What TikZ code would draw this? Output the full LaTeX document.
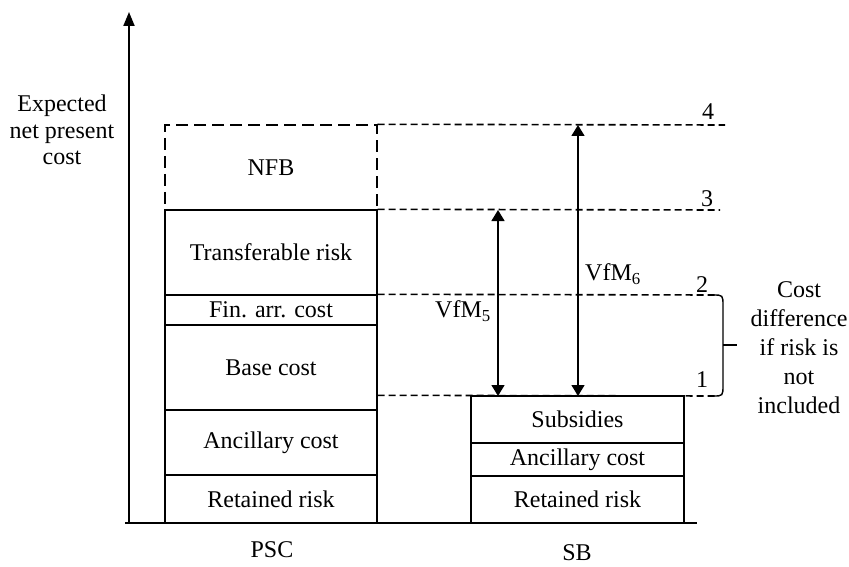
\documentclass[tikz,border=0pt]{standalone}
\usepackage{fontspec}
\setmainfont{Liberation Serif}
\usetikzlibrary{arrows.meta,calc}
\begin{document}
\begin{tikzpicture}[x=1pt,y=-1pt,
  every node/.style={font=\fontsize{24}{27}\selectfont, inner sep=0pt},
  pscbox/.style={draw, line width=1.4pt, minimum width=212pt},
  sbbox/.style={draw, line width=1.4pt, minimum width=213pt},
  guide/.style={line width=1.6pt, dash pattern=on 7pt off 4pt},
  axisline/.style={line width=2pt},
  dbl/.style={line width=1.5pt, {Triangle[length=11pt,width=13pt]}-{Triangle[length=11pt,width=13pt]}}]
\useasboundingbox (0,0) rectangle (849,567);
% PSC column
\node[pscbox, minimum height=48pt] (pret) at (271,499) {Retained risk};
\node[pscbox, minimum height=65pt] (panc) at (271,442.5) {Ancillary cost};
\node[pscbox, minimum height=85pt] (base) at (271,367.5) {Base cost};
\node[pscbox, minimum height=30pt] (fin) at (271,310) {Fin. arr. cost};
\node[pscbox, minimum height=85pt] (tr) at (271,252.5) {Transferable risk};
\node[pscbox, dash pattern=on 12pt off 6pt, minimum height=85pt] (nfb) at (271,167.5) {NFB};
% SB column
\node[sbbox, minimum height=47pt] (sret) at (577.5,499.5) {Retained risk};
\node[sbbox, minimum height=33pt] (sanc) at (577.5,459.5) {Ancillary cost};
\node[sbbox, minimum height=47pt] (sub) at (577.5,419.5) {Subsidies};
% axes
\coordinate (o) at (129,523);
\coordinate (ytop) at (129,12);
\coordinate (xl) at (125,523);
\coordinate (xr) at (697,523);
\draw[axisline, -{Triangle[length=14pt,width=11pt]}] (o) -- (ytop);
\draw[axisline] (xl) -- (xr);
\node[align=center, font=\fontsize{24}{26.5}\selectfont] (ylab) at (62,130) {Expected\\net present\\cost};
\node (psc) at (272,550) {PSC};
\node (sb) at (577,553) {SB};
% guide lines
\coordinate (g4) at (725,125);
\coordinate (g3) at (720,210);
\coordinate (g2) at (715,295);
\coordinate (g1) at (715,396);
\draw[guide] (nfb.north east) -- (g4);
\draw[guide] (tr.north east) -- (g3);
\draw[guide] (fin.north east) -- (g2);
\draw[guide] (base.east |- sub.north) -- (g1);
\node (n4) at (708,112) {4};
\node (n3) at (707,199) {3};
\node (n2) at (702,285) {2};
\node (n1) at (702,380) {1};
% VfM arrows
\coordinate (v5t) at (498,210);
\coordinate (v5b) at (498,396);
\coordinate (v6t) at (578,125);
\coordinate (v6b) at (578,396);
\draw[dbl] (v5t) -- (v5b);
\draw[dbl] (v6t) -- (v6b);
\node (vfm5) at (463,311) {VfM\textsubscript{5}};
\node (vfm6) at (613,274) {VfM\textsubscript{6}};
% brace
\coordinate (b1) at (713,295);
\coordinate (b2) at (713,396);
\coordinate (bm) at (723,345);
\coordinate (bt) at (737,345);
\draw[line width=1.4pt] (b1) .. controls (723,295) .. (723,306) -- (723,385) .. controls (723,396) .. (b2);
\draw[line width=1.4pt] (bm) -- (bt);
\node[align=center, font=\fontsize{24}{29}\selectfont] (cd) at (799,348) {Cost\\difference\\if risk is\\not\\included};
\end{tikzpicture}
\end{document}
